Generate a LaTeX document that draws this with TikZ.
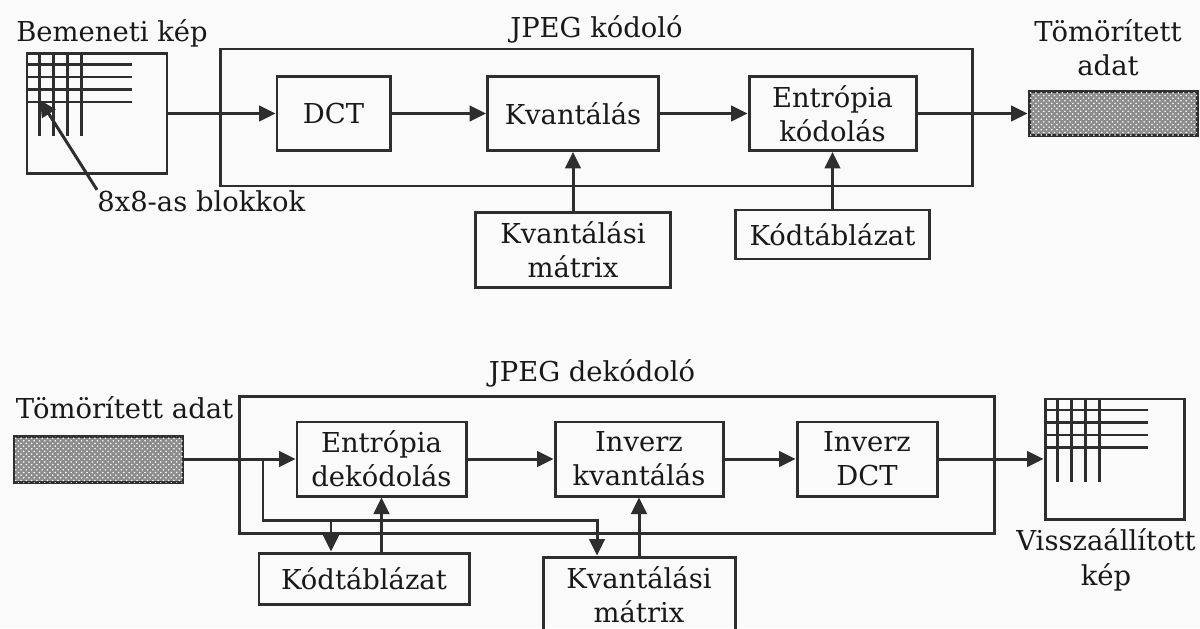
\documentclass[tikz,border=0pt]{standalone}
\usepackage{fontspec}
\setmainfont{DejaVu Serif}
\usetikzlibrary{arrows.meta,shapes,calc}
\usetikzlibrary{positioning,fit,patterns}
\tikzstyle{arrow}=[draw,-{Triangle[length=3.3mm,width=3.1mm]},line width=1.7pt]
\tikzstyle{tbox} = [rectangle, draw, line width=1.7pt, align=center, inner sep=0pt]
\tikzstyle{tframe} = [draw, line width=1.7pt, inner xsep=1.1cm, inner ysep=0.6cm]
\tikzstyle{tdata} = [rectangle, draw, line width=1.7pt, fill=black!45, postaction={pattern=crosshatch dots, pattern color=white}]
\tikzstyle{tgrid} = [draw, line width=1.3pt]
\tikzstyle{tlabel} = [inner sep=0pt, align=center]

\begin{document}
\begin{tikzpicture}[every node/.style={font=\fontsize{15.6}{19.5}\selectfont, text=black!90}, color=black!82]
\useasboundingbox[fill=black!2] (0,0) rectangle (24,-12.56);

% kodolo
\node [tbox, minimum width=2.8cm, minimum height=2.4cm] (in) at (1.94,-2.27) {};
\foreach \i in {1,...,4} {
  \draw[tgrid] ([yshift=-\i*2.5mm]in.north west) -- ++(2.12,0);
  \draw[tgrid] ([xshift=\i*2.8mm]in.north west) -- ++(0,-1.68);
}
\node [tbox, minimum width=2.26cm, minimum height=1.48cm] (dct) at (6.67,-2.27) {DCT};
\node [tbox, right of=dct, node distance=4.79cm, minimum width=3.42cm, minimum height=1.48cm] (kv) {Kvantálás};
\node [tbox, right of=kv, node distance=5.19cm, minimum width=3.34cm, minimum height=1.48cm] (ek) {Entrópia\\kódolás};
\node [tframe, fit=(dct) (ek), yshift=-0.08cm] (enc) {};
\node [tbox, below of=kv, node distance=2.73cm, minimum width=3.9cm, minimum height=1.5cm] (kvm) {Kvantálási\\mátrix};
\node [tbox, below of=ek, node distance=2.42cm, minimum width=3.88cm, minimum height=0.98cm] (kt) {Kódtáblázat};
\node [tdata, minimum width=3.36cm, minimum height=0.88cm] (out) at (22.26,-2.27) {};

\node [tlabel, anchor=base] at (2.24,-0.84) {Bemeneti kép};
\node [tlabel, anchor=base west] (blk) at (1.94,-4.22) {8x8-as blokkok};
\coordinate (blkpt) at (0.8,-2.0);
\node [tlabel, anchor=base] at ([yshift=0.2cm]enc.north) {JPEG kódoló};
\node [tlabel, anchor=base] (outl) at (22.16,-1.52) {Tömörített\\adat};

\draw[arrow] (in) -- (dct);
\draw[arrow] (dct) -- (kv);
\draw[arrow] (kv) -- (ek);
\draw[arrow] (ek) -- (out);
\draw[arrow] (kvm) -- (kv);
\draw[arrow] (kt) -- (ek);
\draw[arrow] (blk.north west) -- (blkpt);

% dekodolo
\node [tdata, minimum width=3.38cm, minimum height=0.92cm] (inp) at (1.97,-9.18) {};
\node [tbox, minimum width=3.38cm, minimum height=1.48cm] (ed) at (7.63,-9.18) {Entrópia\\dekódolás};
\node [tbox, right of=ed, node distance=5.15cm, minimum width=3.36cm, minimum height=1.48cm] (ikv) {Inverz\\kvantálás};
\node [tbox, right of=ikv, node distance=4.56cm, minimum width=2.8cm, minimum height=1.48cm] (idct) {Inverz\\DCT};
\node [tframe, fit=(ed) (idct), inner xsep=1.12cm, yshift=-0.12cm] (dec) {};
\node [tbox, minimum width=2.78cm, minimum height=2.4cm] (rec) at (22.29,-9.18) {};
\foreach \i in {1,...,4} {
  \draw[tgrid] ([yshift=-\i*2.5mm]rec.north west) -- ++(2.08,0);
  \draw[tgrid] ([xshift=\i*2.8mm]rec.north west) -- ++(0,-1.68);
}
\node [tbox, minimum width=4.2cm, minimum height=1.02cm] (kt2) at (7.28,-11.57) {Kódtáblázat};
\node [tbox, below of=ikv, node distance=2.72cm, minimum width=3.84cm, minimum height=1.52cm] (kvm2) {Kvantálási\\mátrix};

\node [tlabel, anchor=base] at (2.49,-8.36) {Tömörített adat};
\node [tlabel, anchor=base] at ([xshift=-0.5cm,yshift=0.28cm]dec.north) {JPEG dekódoló};
\node [tlabel, anchor=base] (recl) at (22.12,-11.7) {Visszaállított\\kép};

\coordinate (split) at (5.26,-9.18);
\coordinate (qdrop) at (11.94,-10.4);
\coordinate (kdrop) at (6.62,-10.4);
\draw[arrow] (inp) -- (ed);
\draw[arrow] (ed) -- (ikv);
\draw[arrow] (ikv) -- (idct);
\draw[arrow] (idct) -- (rec);
\draw[arrow] (split) |- (qdrop) -- (qdrop |- kvm2.north);
\draw[arrow] (kdrop) -- (kdrop |- kt2.north);
\draw[arrow] (ed |- kt2.north) -- (ed.south);
\draw[arrow] (kvm2) -- (ikv);
\end{tikzpicture}
\end{document}
